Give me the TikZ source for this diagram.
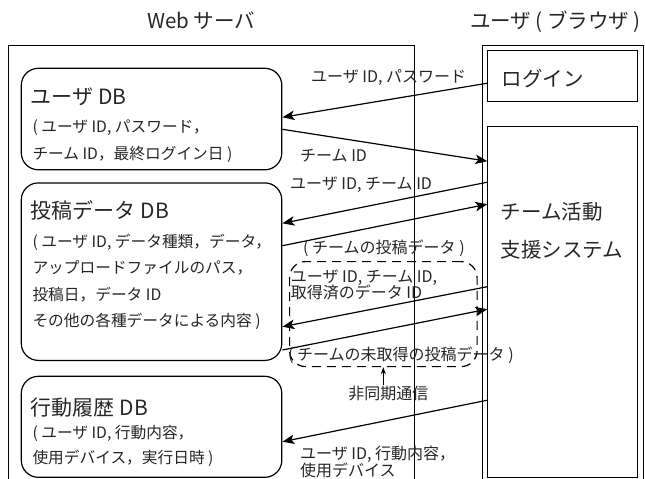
\documentclass[tikz,border=0pt]{standalone}
\usepackage{fontspec}
\setmainfont{Noto Sans CJK JP}
\usetikzlibrary{arrows.meta}
\begin{document}
\begin{tikzpicture}[x=1pt,y=-1pt,
  container/.style={draw, line width=1pt, anchor=north west, inner sep=0pt},
  dbbox/.style={draw, line width=1.2pt, rounded corners=17pt, anchor=north west, inner sep=0pt},
  txt/.style={inner sep=0pt, text=black!85},
  hdr/.style={txt, font=\fontsize{20.5}{24}\selectfont},
  ttl/.style={txt, anchor=west, font=\fontsize{21}{25}\selectfont},
  big/.style={txt, anchor=west, font=\fontsize{20.5}{24}\selectfont},
  body/.style={txt, anchor=west, font=\fontsize{15.7}{19}\selectfont},
  lbl/.style={txt, anchor=west, font=\fontsize{16}{19}\selectfont},
  arr/.style={-{Stealth[length=12pt,width=9.5pt,inset=3pt]}, line width=1.2pt},
  sarr/.style={-{Stealth[length=7pt,width=5pt]}, line width=1pt},
  async/.style={draw, line width=1.2pt, dash pattern=on 9pt off 6pt, rounded corners=16pt, anchor=north west, inner sep=0pt}]
\useasboundingbox (0,0) rectangle (645,479);
% containers
\node[container, minimum width=406pt, minimum height=445pt] (server) at (7.5,44.5) {};
\node[container, minimum width=161.5pt, minimum height=445pt] (browser) at (481.7,44.5) {};
\node[container, minimum width=150pt, minimum height=50.5pt] (login) at (487.3,50.2) {};
\node[container, minimum width=150pt, minimum height=350.5pt] (sys) at (487.3,126.2) {};
% headers
\node[hdr] (hs) at (201,21) {Web サーバ};
\node[hdr] (hb) at (555.5,21.7) {ユーザ ( ブラウザ )};
% browser texts
\node[big] (logintxt) at (501.7,79) {ログイン};
\node[big] (sys1) at (500.7,211.7) {チーム活動};
\node[big] (sys2) at (500.7,250) {支援システム};
% DB boxes
\node[dbbox, minimum width=260.5pt, minimum height=101.5pt] (udb) at (20.7,67.7) {};
\node[dbbox, minimum width=260.5pt, minimum height=177.5pt] (pdb) at (20.7,182.3) {};
\node[dbbox, minimum width=260.5pt, minimum height=101pt] (hdb) at (20.7,375.7) {};
% DB texts
\node[ttl] (udbt) at (30.7,96.7) {ユーザ DB};
\node[body] (udb1) at (32.3,127.7) {( ユーザ ID, パスワード，};
\node[body] (udb2) at (32.3,154.3) {チーム ID，最終ログイン日 )};
\node[ttl] (pdbt) at (30.7,210.7) {投稿データ DB};
\node[body] (pdb1) at (32.3,242.3) {( ユーザ ID, データ種類，データ，};
\node[body] (pdb2) at (32.3,268.3) {アップロードファイルのパス，};
\node[body] (pdb3) at (32.3,295) {投稿日，データ ID};
\node[body] (pdb4) at (32.3,321.7) {その他の各種データによる内容 )};
\node[ttl] (hdbt) at (30.7,407.3) {行動履歴 DB};
\node[body] (hdb1) at (32.3,433.3) {( ユーザ ID, 行動内容，};
\node[body] (hdb2) at (32.3,458.3) {使用デバイス，実行日時 )};
% async region
\node[async, minimum width=187.5pt, minimum height=105pt] (asy) at (289,261) {};
% arrows
\draw[arr] ([yshift=-33pt]login.north west) -- ([yshift=-49.6pt]udb.north east);
\draw[arr] ([yshift=-61.6pt]udb.north east) -- ([yshift=-35pt]sys.north west);
\draw[arr] ([yshift=-56pt]sys.north west) -- ([yshift=-41pt]pdb.north east);
\draw[arr] ([yshift=-63.4pt]pdb.north east) -- ([yshift=-78pt]sys.north west);
\draw[arr] ([yshift=-160.5pt]sys.north west) -- ([yshift=-144.4pt]pdb.north east);
\draw[arr] ([yshift=-167.7pt]pdb.north east) -- ([yshift=-183pt]sys.north west);
\draw[arr] ([yshift=-274pt]sys.north west) -- ([yshift=-66pt]hdb.north east);
% labels
\node[lbl] (l1) at (311,77.3) {ユーザ ID, パスワード};
\node[lbl] (l2) at (300,156) {チーム ID};
\node[lbl] (l3) at (290,184.3) {ユーザ ID, チーム ID};
\node[lbl] (l4) at (303,248) {( チームの投稿データ )};
\node[lbl] (l5a) at (290.7,277.5) {ユーザ ID, チーム ID,};
\node[lbl] (l5b) at (290.7,292.5) {取得済のデータ ID};
\node[lbl] (l6) at (288,355) {( チームの未取得の投稿データ )};
\node[lbl] (l7a) at (300,454.3) {ユーザ ID, 行動内容，};
\node[lbl] (l7b) at (300,470.5) {使用デバイス};
\node[lbl, anchor=center] (note) at (388.3,393.3) {非同期通信};
\draw[sarr] ([xshift=-5pt,yshift=1pt]note.north) -- ([xshift=-5pt]note.north |- asy.south);
\end{tikzpicture}
\end{document}
